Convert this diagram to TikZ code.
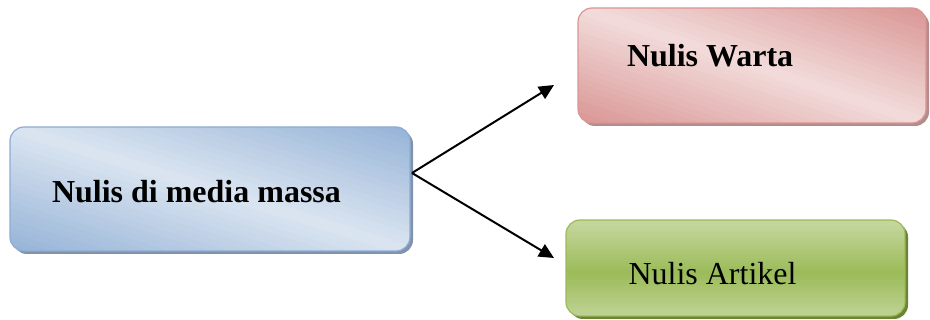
\documentclass[tikz,border=0pt]{standalone}
\usepackage{fontspec}
\setmainfont{Liberation Serif}
\usetikzlibrary{arrows.meta}

\definecolor{bluedark}{HTML}{95B3D7}
\definecolor{bluelight}{HTML}{DBE5F1}
\definecolor{blueline}{HTML}{8EACD3}
\definecolor{blueshadow}{HTML}{7F93AD}
\definecolor{reddark}{HTML}{D99694}
\definecolor{redlight}{HTML}{F2DCDB}
\definecolor{redshadow}{HTML}{B48C8C}
\definecolor{greendark}{HTML}{9BBB59}
\definecolor{greenlight}{HTML}{C3D69B}
\definecolor{greenshadow}{HTML}{6B8435}

% shadow and gradient behind a box: left, top, width, height, dark, light, shadow
\newcommand{\diagfill}[7]{%
  \fill[#7, rounded corners=14pt] ({#1+3},{#2+3}) rectangle ++(#3,#4);
  \begin{scope}
    \clip[rounded corners=14pt] (#1,#2) rectangle ++(#3,#4);
    \begin{scope}[shift={(#1,#2)}, x=#3pt, y=-#4pt]
      \foreach \k in {0,...,39}{
        \pgfmathsetmacro\mix{100*abs(-1+(\k+0.5)/20)}
        \fill[#5!\mix!#6] ({\k/20-2},-1) -- ({\k/20+1},2) -- ({(\k+1.3)/20+1},2) -- ({(\k+1.3)/20-2},-1) -- cycle;
      }
    \end{scope}
  \end{scope}}
\newcommand{\vertfill}[7]{%
  \fill[#7, rounded corners=14pt] ({#1+3},{#2+3}) rectangle ++(#3,#4);
  \begin{scope}
    \clip[rounded corners=14pt] (#1,#2) rectangle ++(#3,#4);
    \begin{scope}[shift={(#1,#2)}, x=#3pt, y=-#4pt]
      \foreach \k in {0,...,39}{
        \pgfmathsetmacro\mix{100*max(0,1-abs((\k+0.5)/40-0.55)/0.5)}
        \fill[#5!\mix!#6] (0,{\k/40}) rectangle (1,{(\k+1.3)/40});
      }
    \end{scope}
  \end{scope}}

\tikzset{
  box/.style={rectangle, rounded corners=14pt, line width=1.2pt, inner ysep=0pt,
    align=flush left, font=\fontsize{32}{38}\selectfont},
  arr/.style={line width=2pt, -{Triangle[length=15pt,width=14pt]}}
}

\begin{document}
\begin{tikzpicture}[x=1pt,y=-1pt]
\useasboundingbox (0,0) rectangle (930,320);

% Fills
\diagfill{10}{127}{400}{124}{bluedark}{bluelight}{blueshadow}
\diagfill{578}{8}{348}{115}{reddark}{redlight}{redshadow}
\vertfill{566}{220}{339}{96}{greendark}{greenlight}{greenshadow}

% Boxes
\node[box, draw=blueline, minimum width=400pt, minimum height=124pt, inner xsep=42pt,
  text width=316pt, text height=28pt, text depth=0pt] (massa) at (210,189)
  {\bfseries Nulis di media massa};
\node[box, draw=reddark, minimum width=348pt, minimum height=115pt, inner xsep=49pt,
  text width=250pt, text height=10pt, text depth=7pt] (warta) at (752,65.5)
  {\bfseries Nulis Warta};
\node[box, draw=greendark, minimum width=339pt, minimum height=96pt, inner xsep=61pt,
  text width=214pt, text height=34pt, text depth=0pt] (artikel) at (735.5,268)
  {Nulis Artikel};

% Arrows
\coordinate (fork) at (412,173);
\coordinate (wtip) at (554,85);
\coordinate (atip) at (554,258);
\draw[arr] (fork) -- (wtip);
\draw[arr] (fork) -- (atip);
\end{tikzpicture}
\end{document}
